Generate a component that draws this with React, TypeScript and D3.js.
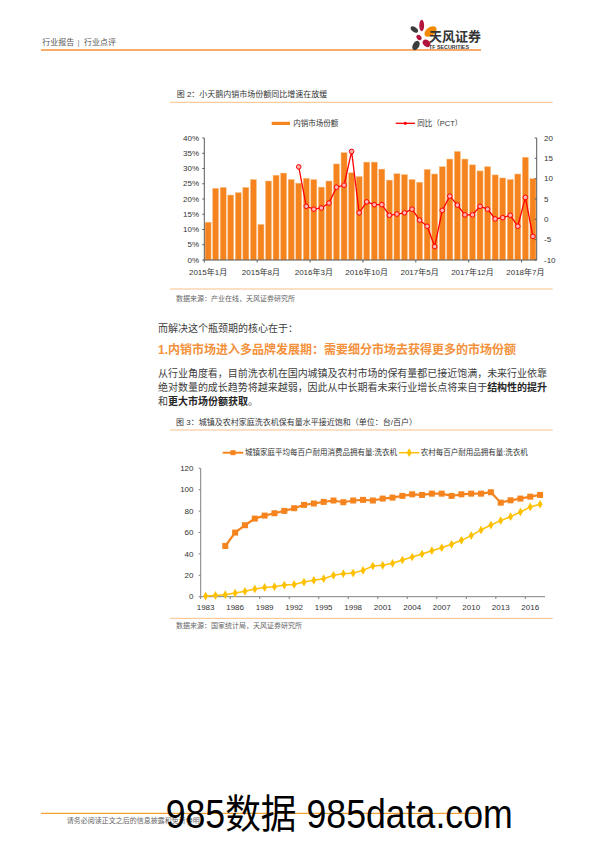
import React from "react";
import * as d3 from "d3";

// ---------- Chart 1 data ----------
const monthYears = [2015, 2016, 2017, 2018];
const months: string[] = [];
monthYears.forEach((y) => {
  for (let m = 1; m <= 12; m++) {
    if (y === 2018 && m > 8) break;
    months.push(`${y}年${m}月`);
  }
});
const shareValues = [
  12.4, 23.5, 23.8, 21.3, 22.1, 23.8, 26.4, 11.7, 25.9, 27.8, 28.5, 26.4,
  25.2, 26.8, 26.4, 23.9, 25.9, 31.5, 35.2, 28.6, 27.4, 32.1, 32.1, 29.8,
  26.2, 28.3, 28.0, 26.4, 25.5, 29.7, 28.2, 30.6, 33.1, 35.6, 33.1, 31.2,
  29.2, 30.6, 27.9, 26.9, 26.4, 28.2, 33.7, 26.7,
];
const yoyValues: (number | null)[] = [
  null, null, null, null, null, null, null, null, null, null, null, null,
  12.9, 3.2, 2.5, 2.8, 4.0, 7.9, 8.4, 16.7, 1.6, 4.3, 3.6, 3.6,
  1.0, 1.3, 1.6, 2.5, -0.2, -1.7, -6.7, 2.2, 5.7, 3.5, 1.1, 1.1,
  3.2, 2.5, 0.1, 0.4, 1.0, -1.7, 5.4, -4.2,
];
const leftTicks = [0, 5, 10, 15, 20, 25, 30, 35, 40];
const rightTicks = [-10, -5, 0, 5, 10, 15, 20];
const monthTickIdx = [0, 7, 14, 21, 28, 35, 42];

// ---------- Chart 2 data ----------
const years: number[] = [];
for (let y = 1983; y <= 2017; y++) years.push(y);
const urbanValues: (number | null)[] = [
  null, null, 47.4, 59.9, 66.8, 73.0, 75.8, 78.0, 80.2, 82.7, 85.8, 87.1,
  88.6, 89.9, 88.3, 89.9, 90.5, 89.9, 91.7, 92.6, 94.2, 95.7, 95.1, 96.3,
  96.3, 94.2, 95.7, 96.3, 96.3, 97.6, 87.9, 90.1, 91.7, 93.5, 95.1,
];
const ruralValues = [
  0.6, 1.2, 1.9, 3.4, 5.0, 7.2, 8.7, 9.4, 10.9, 11.5, 13.7, 15.3, 16.8,
  20.0, 21.5, 22.1, 24.6, 28.7, 29.3, 31.2, 34.3, 37.1, 39.9, 43.0, 45.8,
  49.0, 52.7, 57.1, 62.4, 67.0, 71.1, 74.8, 79.2, 83.9, 86.4,
];
const yTicks2 = [0, 20, 40, 60, 80, 100, 120];
const yearLabels = [1983, 1986, 1989, 1992, 1995, 1998, 2001, 2004, 2007, 2010, 2013, 2016];

const FONT = "'Liberation Sans', Arial, 'Noto Sans CJK SC', sans-serif";
const ORANGE = "#F5841F";
const LINE_ORANGE = "#F9C089";

export default function App() {
  // chart 1 scales
  const x1 = d3.scaleBand<string>().domain(months).range([204.3, 536.7]).paddingInner(0.2).paddingOuter(0.1);
  const yL = d3.scaleLinear().domain([0, 40]).range([260, 138]);
  const yR = d3.scaleLinear().domain([-10, 20]).range([260, 138]);
  const step1 = x1.step();
  const cx1 = (i: number) => (x1(months[i]) as number) + x1.bandwidth() / 2;
  const linePts = yoyValues.map((v, i) => ({ v, i })).filter((d) => d.v !== null) as { v: number; i: number }[];
  const line1 = d3.line<{ v: number; i: number }>().x((d) => cx1(d.i)).y((d) => yR(d.v));

  // chart 2 scales
  const x2 = d3.scaleBand<number>().domain(years).range([200.7, 545]).padding(0);
  const y2 = d3.scaleLinear().domain([0, 120]).range([596.7, 468.3]);
  const cx2 = (yr: number) => (x2(yr) as number) + x2.bandwidth() / 2;
  const urbanPts = years.map((yr, i) => ({ yr, v: urbanValues[i] })).filter((d) => d.v !== null) as { yr: number; v: number }[];
  const ruralPts = years.map((yr, i) => ({ yr, v: ruralValues[i] }));
  const line2 = d3.line<{ yr: number; v: number }>().x((d) => cx2(d.yr)).y((d) => y2(d.v));
  const diamond = d3.symbol().type(d3.symbolDiamond).size(22)();

  const axisColor = "#595959";

  return (
    <svg width={596} height={842} style={{ position: "absolute", left: 0, top: 0, background: "#fff" }} fontFamily={FONT}>
      {/* Header */}
      <text x={42.3} y={44.5} fontSize={8} fill="#555">行业报告</text>
      <text x={77.5} y={44.5} fontSize={8} fill="#777">|</text>
      <text x={84} y={44.5} fontSize={8} fill="#555">行业点评</text>
      <line x1={41} x2={481} y1={50} y2={50} stroke="#F4913C" strokeWidth={1.5} />
      {/* Logo */}
      <g>
        <ellipse cx={414.3} cy={29.5} rx={4.2} ry={2.4} fill="#3C3C3C" transform="rotate(35 414.3 29.5)" />
        <ellipse cx={421.7} cy={25.5} rx={2.4} ry={5.8} fill="#B3143C" />
        <ellipse cx={430.5} cy={31.5} rx={6.8} ry={4.2} fill="#F08A00" transform="rotate(-35 430.5 31.5)" />
        <ellipse cx={419} cy={37.5} rx={2.2} ry={3} fill="#B3143C" transform="rotate(-40 419 37.5)" />
        <ellipse cx={416} cy={45.5} rx={3.2} ry={5} fill="#3C3C3C" transform="rotate(30 416 45.5)" />
        <ellipse cx={426.5} cy={43.3} rx={4.2} ry={3.2} fill="#B3143C" transform="rotate(40 426.5 43.3)" />
      </g>
      <text x={429} y={41.3} fontSize={13} fontWeight="bold" fill="#333">天风证券</text>
      <text x={429} y={48.6} fontSize={4.5} fontWeight="bold" fill="#333" textLength={40} lengthAdjust="spacingAndGlyphs">TF SECURITIES</text>

      {/* Chart 1 title */}
      <text x={176.7} y={96.8} fontSize={8} fill="#333">图 2：小天鹅内销市场份额同比增速在放缓</text>
      <line x1={170} x2={552.7} y1={102.3} y2={102.3} stroke={LINE_ORANGE} strokeWidth={1} />

      {/* Chart 1 legend */}
      <rect x={271.7} y={121.8} width={18.3} height={3.2} fill={ORANGE} />
      <text x={293.3} y={126} fontSize={7.5} fill="#333">内销市场份额</text>
      <line x1={395.7} x2={415} y1={123.3} y2={123.3} stroke="#FF0000" strokeWidth={1.3} />
      <circle cx={405.3} cy={123.3} r={1.6} fill="#FF0000" />
      <text x={417.3} y={126} fontSize={7.5} fill="#333">同比（PCT）</text>

      {/* Chart 1 bars */}
      {shareValues.map((v, i) => (
        <rect key={i} x={x1(months[i])} y={yL(v)} width={x1.bandwidth()} height={yL(0) - yL(v)} fill={ORANGE} stroke="#FAC38C" strokeWidth={0.5} />
      ))}
      {/* Chart 1 axes */}
      <line x1={204.3} x2={204.3} y1={138} y2={260} stroke={axisColor} strokeWidth={1} />
      {leftTicks.map((t) => (
        <g key={t}>
          <line x1={202.3} x2={204.3} y1={yL(t)} y2={yL(t)} stroke={axisColor} />
          <text x={199} y={yL(t)} dy="0.33em" textAnchor="end" fontSize={8} fill="#333">{t}%</text>
        </g>
      ))}
      <line x1={536.7} x2={536.7} y1={138} y2={260} stroke={axisColor} strokeWidth={1} />
      {rightTicks.map((t) => (
        <g key={t}>
          <line x1={534.7} x2={536.7} y1={yR(t)} y2={yR(t)} stroke={axisColor} />
          <text x={544} y={yR(t)} dy="0.33em" textAnchor="start" fontSize={8} fill="#333">{t}</text>
        </g>
      ))}
      <line x1={204.3} x2={536.7} y1={260} y2={260} stroke={axisColor} strokeWidth={1} />
      {monthTickIdx.map((i) => (
        <g key={i}>
          <line x1={cx1(i) - step1 / 2} x2={cx1(i) - step1 / 2} y1={260} y2={262.5} stroke={axisColor} />
          <text x={cx1(i)} y={274.5} textAnchor="middle" fontSize={8} fill="#333">{months[i]}</text>
        </g>
      ))}
      {/* Chart 1 line */}
      <path d={line1(linePts) as string} fill="none" stroke="#FF0000" strokeWidth={1.3} />
      {linePts.map((d) => (
        <circle key={d.i} cx={cx1(d.i)} cy={yR(d.v)} r={2.3} fill="#FFB0B0" stroke="#FF0000" strokeWidth={1} />
      ))}

      {/* Chart 1 source */}
      <line x1={170} x2={552.7} y1={289} y2={289} stroke={LINE_ORANGE} strokeWidth={1} />
      <text x={176} y={300.5} fontSize={7} fill="#666">数据来源：产业在线，天风证券研究所</text>

      {/* Body text */}
      <text x={158} y={332} fontSize={10} fill="#404040">而解决这个瓶颈期的核心在于：</text>
      <text x={158} y={354.3} fontSize={12} fontWeight="bold" fill="#F4913C">1.内销市场进入多品牌发展期：需要细分市场去获得更多的市场份额</text>
      <text x={158} y={377} fontSize={10} fill="#404040" textLength={389} lengthAdjust="spacing">从行业角度看，目前洗衣机在国内城镇及农村市场的保有量都已接近饱满，未来行业依靠</text>
      <text x={158} y={390.8} fontSize={10} fill="#404040" textLength={389} lengthAdjust="spacing">
        绝对数量的成长趋势将越来越弱，因此从中长期看未来行业增长点将来自于<tspan fontWeight="bold" fill="#262626">结构性的提升</tspan>
      </text>
      <text x={158} y={404.5} fontSize={10} fill="#404040">
        和<tspan fontWeight="bold" fill="#262626">更大市场份额获取</tspan>。
      </text>

      {/* Chart 2 title */}
      <text x={176} y={425} fontSize={8} fill="#333">图 3：城镇及农村家庭洗衣机保有量水平接近饱和（单位：台/百户）</text>
      <line x1={170} x2={552.7} y1={430} y2={430} stroke={LINE_ORANGE} strokeWidth={1} />

      {/* Chart 2 legend */}
      <line x1={222.7} x2={243.3} y1={452.7} y2={452.7} stroke={ORANGE} strokeWidth={2} />
      <rect x={230.5} y={450.2} width={5} height={5} fill={ORANGE} />
      <text x={245} y={455.3} fontSize={7.5} fill="#333">城镇家庭平均每百户耐用消费品拥有量:洗衣机</text>
      <line x1={399} x2={419.3} y1={452.7} y2={452.7} stroke="#FFC000" strokeWidth={1.5} />
      <path d={diamond as string} transform="translate(409.2,452.7)" fill="#FFC000" />
      <text x={420.7} y={455.3} fontSize={7.5} fill="#333">农村每百户耐用品拥有量:洗衣机</text>

      {/* Chart 2 axes */}
      <line x1={200.7} x2={200.7} y1={468.3} y2={596.7} stroke="#808080" strokeWidth={1} />
      {yTicks2.map((t) => (
        <g key={t}>
          <line x1={198.7} x2={200.7} y1={y2(t)} y2={y2(t)} stroke="#808080" />
          <text x={193.5} y={y2(t)} dy="0.33em" textAnchor="end" fontSize={8} fill="#333">{t}</text>
        </g>
      ))}
      <line x1={200.7} x2={545} y1={596.7} y2={596.7} stroke="#808080" strokeWidth={1} />
      {yearLabels.map((yr) => (
        <g key={yr}>
          <line x1={x2(yr) as number} x2={x2(yr) as number} y1={596.7} y2={599} stroke="#808080" />
          <text x={cx2(yr)} y={609.5} textAnchor="middle" fontSize={8} fill="#333">{yr}</text>
        </g>
      ))}
      {/* Chart 2 lines */}
      <path d={line2(ruralPts) as string} fill="none" stroke="#FFC000" strokeWidth={1.5} />
      {ruralPts.map((d) => (
        <path key={d.yr} d={diamond as string} transform={`translate(${cx2(d.yr)},${y2(d.v)})`} fill="#FFC000" />
      ))}
      <path d={line2(urbanPts) as string} fill="none" stroke={ORANGE} strokeWidth={2.2} />
      {urbanPts.map((d) => (
        <rect key={d.yr} x={cx2(d.yr) - 3} y={y2(d.v) - 3} width={6} height={6} fill={ORANGE} />
      ))}

      {/* Chart 2 source */}
      <line x1={170} x2={552.7} y1={618.3} y2={618.3} stroke={LINE_ORANGE} strokeWidth={1} />
      <text x={176} y={628} fontSize={7} fill="#666">数据来源：国家统计局，天风证券研究所</text>

      {/* Footer */}
      <line x1={41} x2={481} y1={813.3} y2={813.3} stroke="#F08A00" strokeWidth={1} />
      <text x={66.7} y={823.3} fontSize={7} fill="#666">请务必阅读正文之后的信息披露和免责申明</text>
      <text x={165.7} y={828} fontSize={40} fill="#000" textLength={347} lengthAdjust="spacingAndGlyphs">985数据 985data.com</text>
    </svg>
  );
}
